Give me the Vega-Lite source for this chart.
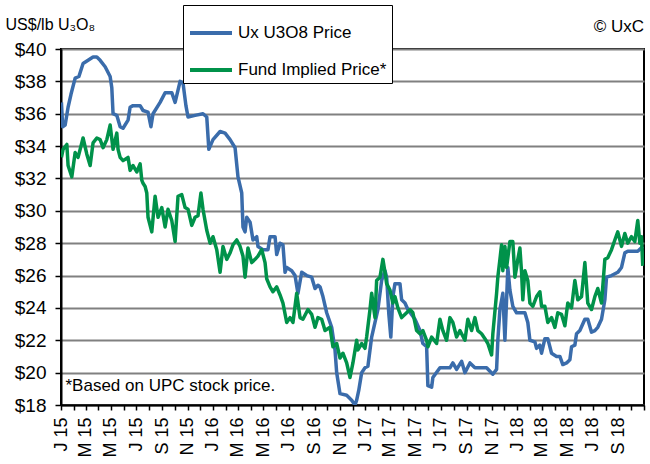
{
  "$schema": "https://vega.github.io/schema/vega-lite/v6.json",
  "width": 583,
  "height": 356,
  "autosize": "none",
  "padding": {"left": 61, "top": 49, "right": 6, "bottom": 59},
  "background": "white",
  "config": {
    "font": "Liberation Sans",
    "view": {"stroke": "black", "strokeWidth": 2},
    "axis": {"labelColor": "black", "titleColor": "black", "tickColor": "black", "domainColor": "black", "domainWidth": 2}
  },
  "title": {"text": "© UxC", "anchor": "end", "frame": "group", "fontSize": 17, "fontWeight": "normal", "offset": 16, "dy": 47, "color": "black", "font": "Liberation Sans"},
  "data": {
    "values": [
      {"date": "2015-01-02", "series": "Ux U3O8 Price", "price": 36.7},
      {"date": "2015-01-05", "series": "Ux U3O8 Price", "price": 35.2},
      {"date": "2015-01-11", "series": "Ux U3O8 Price", "price": 35.3},
      {"date": "2015-01-18", "series": "Ux U3O8 Price", "price": 36.4},
      {"date": "2015-01-25", "series": "Ux U3O8 Price", "price": 37.2},
      {"date": "2015-02-04", "series": "Ux U3O8 Price", "price": 38.2},
      {"date": "2015-02-13", "series": "Ux U3O8 Price", "price": 38.3},
      {"date": "2015-02-23", "series": "Ux U3O8 Price", "price": 39.1},
      {"date": "2015-03-07", "series": "Ux U3O8 Price", "price": 39.3},
      {"date": "2015-03-19", "series": "Ux U3O8 Price", "price": 39.5},
      {"date": "2015-03-28", "series": "Ux U3O8 Price", "price": 39.5},
      {"date": "2015-04-05", "series": "Ux U3O8 Price", "price": 39.3},
      {"date": "2015-04-17", "series": "Ux U3O8 Price", "price": 38.9},
      {"date": "2015-04-29", "series": "Ux U3O8 Price", "price": 38.3},
      {"date": "2015-05-03", "series": "Ux U3O8 Price", "price": 37.6},
      {"date": "2015-05-06", "series": "Ux U3O8 Price", "price": 36.0},
      {"date": "2015-05-15", "series": "Ux U3O8 Price", "price": 35.9},
      {"date": "2015-05-23", "series": "Ux U3O8 Price", "price": 35.2},
      {"date": "2015-05-30", "series": "Ux U3O8 Price", "price": 35.1},
      {"date": "2015-06-11", "series": "Ux U3O8 Price", "price": 35.6},
      {"date": "2015-06-16", "series": "Ux U3O8 Price", "price": 36.4},
      {"date": "2015-06-23", "series": "Ux U3O8 Price", "price": 36.5},
      {"date": "2015-07-10", "series": "Ux U3O8 Price", "price": 36.5},
      {"date": "2015-07-17", "series": "Ux U3O8 Price", "price": 36.2},
      {"date": "2015-07-29", "series": "Ux U3O8 Price", "price": 36.1},
      {"date": "2015-08-05", "series": "Ux U3O8 Price", "price": 35.2},
      {"date": "2015-08-10", "series": "Ux U3O8 Price", "price": 36.0},
      {"date": "2015-08-27", "series": "Ux U3O8 Price", "price": 36.7},
      {"date": "2015-09-08", "series": "Ux U3O8 Price", "price": 37.3},
      {"date": "2015-09-24", "series": "Ux U3O8 Price", "price": 37.3},
      {"date": "2015-10-02", "series": "Ux U3O8 Price", "price": 36.7},
      {"date": "2015-10-14", "series": "Ux U3O8 Price", "price": 38.0},
      {"date": "2015-10-21", "series": "Ux U3O8 Price", "price": 37.9},
      {"date": "2015-10-28", "series": "Ux U3O8 Price", "price": 36.5},
      {"date": "2015-11-02", "series": "Ux U3O8 Price", "price": 35.8},
      {"date": "2015-11-19", "series": "Ux U3O8 Price", "price": 35.9},
      {"date": "2015-12-08", "series": "Ux U3O8 Price", "price": 36.0},
      {"date": "2015-12-17", "series": "Ux U3O8 Price", "price": 35.8},
      {"date": "2015-12-22", "series": "Ux U3O8 Price", "price": 33.8},
      {"date": "2016-01-01", "series": "Ux U3O8 Price", "price": 34.4},
      {"date": "2016-01-18", "series": "Ux U3O8 Price", "price": 34.9},
      {"date": "2016-01-30", "series": "Ux U3O8 Price", "price": 34.8},
      {"date": "2016-02-11", "series": "Ux U3O8 Price", "price": 34.4},
      {"date": "2016-02-23", "series": "Ux U3O8 Price", "price": 33.9},
      {"date": "2016-03-01", "series": "Ux U3O8 Price", "price": 32.1},
      {"date": "2016-03-10", "series": "Ux U3O8 Price", "price": 31.1},
      {"date": "2016-03-13", "series": "Ux U3O8 Price", "price": 29.0},
      {"date": "2016-03-18", "series": "Ux U3O8 Price", "price": 28.7},
      {"date": "2016-03-22", "series": "Ux U3O8 Price", "price": 29.6},
      {"date": "2016-03-30", "series": "Ux U3O8 Price", "price": 29.3},
      {"date": "2016-04-06", "series": "Ux U3O8 Price", "price": 28.2},
      {"date": "2016-04-15", "series": "Ux U3O8 Price", "price": 28.4},
      {"date": "2016-04-18", "series": "Ux U3O8 Price", "price": 27.8},
      {"date": "2016-04-30", "series": "Ux U3O8 Price", "price": 27.6},
      {"date": "2016-05-12", "series": "Ux U3O8 Price", "price": 27.6},
      {"date": "2016-05-17", "series": "Ux U3O8 Price", "price": 28.4},
      {"date": "2016-05-29", "series": "Ux U3O8 Price", "price": 28.4},
      {"date": "2016-06-02", "series": "Ux U3O8 Price", "price": 27.3},
      {"date": "2016-06-10", "series": "Ux U3O8 Price", "price": 28.0},
      {"date": "2016-06-17", "series": "Ux U3O8 Price", "price": 27.9},
      {"date": "2016-06-22", "series": "Ux U3O8 Price", "price": 26.2},
      {"date": "2016-06-26", "series": "Ux U3O8 Price", "price": 26.5},
      {"date": "2016-07-08", "series": "Ux U3O8 Price", "price": 26.3},
      {"date": "2016-07-16", "series": "Ux U3O8 Price", "price": 26.0},
      {"date": "2016-07-23", "series": "Ux U3O8 Price", "price": 24.9},
      {"date": "2016-08-01", "series": "Ux U3O8 Price", "price": 26.2},
      {"date": "2016-08-13", "series": "Ux U3O8 Price", "price": 26.0},
      {"date": "2016-08-25", "series": "Ux U3O8 Price", "price": 25.9},
      {"date": "2016-09-02", "series": "Ux U3O8 Price", "price": 25.2},
      {"date": "2016-09-09", "series": "Ux U3O8 Price", "price": 25.4},
      {"date": "2016-09-14", "series": "Ux U3O8 Price", "price": 25.3},
      {"date": "2016-09-21", "series": "Ux U3O8 Price", "price": 24.7},
      {"date": "2016-09-30", "series": "Ux U3O8 Price", "price": 23.7},
      {"date": "2016-10-12", "series": "Ux U3O8 Price", "price": 22.8},
      {"date": "2016-10-20", "series": "Ux U3O8 Price", "price": 21.4},
      {"date": "2016-10-24", "series": "Ux U3O8 Price", "price": 20.0},
      {"date": "2016-11-01", "series": "Ux U3O8 Price", "price": 18.7},
      {"date": "2016-11-17", "series": "Ux U3O8 Price", "price": 18.6},
      {"date": "2016-11-29", "series": "Ux U3O8 Price", "price": 18.3},
      {"date": "2016-12-07", "series": "Ux U3O8 Price", "price": 18.0},
      {"date": "2016-12-11", "series": "Ux U3O8 Price", "price": 18.3},
      {"date": "2016-12-16", "series": "Ux U3O8 Price", "price": 18.9},
      {"date": "2016-12-23", "series": "Ux U3O8 Price", "price": 20.0},
      {"date": "2016-12-31", "series": "Ux U3O8 Price", "price": 20.3},
      {"date": "2017-01-07", "series": "Ux U3O8 Price", "price": 20.4},
      {"date": "2017-01-16", "series": "Ux U3O8 Price", "price": 22.2},
      {"date": "2017-01-24", "series": "Ux U3O8 Price", "price": 23.1},
      {"date": "2017-01-31", "series": "Ux U3O8 Price", "price": 23.9},
      {"date": "2017-02-09", "series": "Ux U3O8 Price", "price": 25.7},
      {"date": "2017-02-17", "series": "Ux U3O8 Price", "price": 26.3},
      {"date": "2017-02-21", "series": "Ux U3O8 Price", "price": 25.9},
      {"date": "2017-02-26", "series": "Ux U3O8 Price", "price": 23.7},
      {"date": "2017-03-03", "series": "Ux U3O8 Price", "price": 22.2},
      {"date": "2017-03-08", "series": "Ux U3O8 Price", "price": 24.7},
      {"date": "2017-03-13", "series": "Ux U3O8 Price", "price": 25.5},
      {"date": "2017-03-25", "series": "Ux U3O8 Price", "price": 25.5},
      {"date": "2017-03-29", "series": "Ux U3O8 Price", "price": 24.5},
      {"date": "2017-04-06", "series": "Ux U3O8 Price", "price": 24.3},
      {"date": "2017-04-13", "series": "Ux U3O8 Price", "price": 23.9},
      {"date": "2017-04-30", "series": "Ux U3O8 Price", "price": 23.3},
      {"date": "2017-05-12", "series": "Ux U3O8 Price", "price": 22.6},
      {"date": "2017-05-19", "series": "Ux U3O8 Price", "price": 21.8},
      {"date": "2017-05-28", "series": "Ux U3O8 Price", "price": 21.6},
      {"date": "2017-05-31", "series": "Ux U3O8 Price", "price": 19.2},
      {"date": "2017-06-09", "series": "Ux U3O8 Price", "price": 19.1},
      {"date": "2017-06-12", "series": "Ux U3O8 Price", "price": 19.7},
      {"date": "2017-06-29", "series": "Ux U3O8 Price", "price": 20.3},
      {"date": "2017-07-23", "series": "Ux U3O8 Price", "price": 20.3},
      {"date": "2017-07-30", "series": "Ux U3O8 Price", "price": 20.6},
      {"date": "2017-08-08", "series": "Ux U3O8 Price", "price": 20.2},
      {"date": "2017-08-20", "series": "Ux U3O8 Price", "price": 20.7},
      {"date": "2017-08-28", "series": "Ux U3O8 Price", "price": 20.0},
      {"date": "2017-09-09", "series": "Ux U3O8 Price", "price": 20.6},
      {"date": "2017-09-21", "series": "Ux U3O8 Price", "price": 20.3},
      {"date": "2017-10-03", "series": "Ux U3O8 Price", "price": 20.3},
      {"date": "2017-10-19", "series": "Ux U3O8 Price", "price": 20.3},
      {"date": "2017-11-03", "series": "Ux U3O8 Price", "price": 19.9},
      {"date": "2017-11-12", "series": "Ux U3O8 Price", "price": 20.2},
      {"date": "2017-11-15", "series": "Ux U3O8 Price", "price": 22.0},
      {"date": "2017-11-20", "series": "Ux U3O8 Price", "price": 23.9},
      {"date": "2017-11-27", "series": "Ux U3O8 Price", "price": 24.9},
      {"date": "2017-12-02", "series": "Ux U3O8 Price", "price": 22.0},
      {"date": "2017-12-06", "series": "Ux U3O8 Price", "price": 24.5},
      {"date": "2017-12-09", "series": "Ux U3O8 Price", "price": 26.5},
      {"date": "2017-12-14", "series": "Ux U3O8 Price", "price": 25.1},
      {"date": "2017-12-21", "series": "Ux U3O8 Price", "price": 24.1},
      {"date": "2017-12-30", "series": "Ux U3O8 Price", "price": 23.7},
      {"date": "2018-01-19", "series": "Ux U3O8 Price", "price": 23.7},
      {"date": "2018-01-26", "series": "Ux U3O8 Price", "price": 23.1},
      {"date": "2018-01-31", "series": "Ux U3O8 Price", "price": 22.0},
      {"date": "2018-02-12", "series": "Ux U3O8 Price", "price": 21.9},
      {"date": "2018-02-16", "series": "Ux U3O8 Price", "price": 21.5},
      {"date": "2018-02-24", "series": "Ux U3O8 Price", "price": 21.7},
      {"date": "2018-02-28", "series": "Ux U3O8 Price", "price": 21.2},
      {"date": "2018-03-08", "series": "Ux U3O8 Price", "price": 22.1},
      {"date": "2018-03-15", "series": "Ux U3O8 Price", "price": 22.1},
      {"date": "2018-03-24", "series": "Ux U3O8 Price", "price": 21.2},
      {"date": "2018-04-05", "series": "Ux U3O8 Price", "price": 21.0},
      {"date": "2018-04-13", "series": "Ux U3O8 Price", "price": 21.0},
      {"date": "2018-04-20", "series": "Ux U3O8 Price", "price": 20.5},
      {"date": "2018-04-29", "series": "Ux U3O8 Price", "price": 20.6},
      {"date": "2018-05-07", "series": "Ux U3O8 Price", "price": 20.8},
      {"date": "2018-05-11", "series": "Ux U3O8 Price", "price": 21.6},
      {"date": "2018-05-19", "series": "Ux U3O8 Price", "price": 21.7},
      {"date": "2018-05-23", "series": "Ux U3O8 Price", "price": 22.4},
      {"date": "2018-05-31", "series": "Ux U3O8 Price", "price": 22.6},
      {"date": "2018-06-12", "series": "Ux U3O8 Price", "price": 23.3},
      {"date": "2018-06-19", "series": "Ux U3O8 Price", "price": 23.3},
      {"date": "2018-06-28", "series": "Ux U3O8 Price", "price": 22.5},
      {"date": "2018-07-06", "series": "Ux U3O8 Price", "price": 22.6},
      {"date": "2018-07-13", "series": "Ux U3O8 Price", "price": 22.8},
      {"date": "2018-07-22", "series": "Ux U3O8 Price", "price": 23.3},
      {"date": "2018-07-30", "series": "Ux U3O8 Price", "price": 24.5},
      {"date": "2018-08-03", "series": "Ux U3O8 Price", "price": 25.9},
      {"date": "2018-08-15", "series": "Ux U3O8 Price", "price": 26.0},
      {"date": "2018-08-30", "series": "Ux U3O8 Price", "price": 26.2},
      {"date": "2018-09-08", "series": "Ux U3O8 Price", "price": 26.5},
      {"date": "2018-09-16", "series": "Ux U3O8 Price", "price": 27.4},
      {"date": "2018-09-23", "series": "Ux U3O8 Price", "price": 27.5},
      {"date": "2018-10-17", "series": "Ux U3O8 Price", "price": 27.5},
      {"date": "2018-10-29", "series": "Ux U3O8 Price", "price": 27.8},
      {"date": "2015-01-02", "series": "Fund Implied Price*", "price": 33.3},
      {"date": "2015-01-06", "series": "Fund Implied Price*", "price": 33.8},
      {"date": "2015-01-15", "series": "Fund Implied Price*", "price": 34.1},
      {"date": "2015-01-18", "series": "Fund Implied Price*", "price": 32.8},
      {"date": "2015-01-27", "series": "Fund Implied Price*", "price": 32.1},
      {"date": "2015-02-04", "series": "Fund Implied Price*", "price": 33.6},
      {"date": "2015-02-11", "series": "Fund Implied Price*", "price": 33.3},
      {"date": "2015-02-23", "series": "Fund Implied Price*", "price": 34.5},
      {"date": "2015-03-04", "series": "Fund Implied Price*", "price": 33.5},
      {"date": "2015-03-12", "series": "Fund Implied Price*", "price": 32.8},
      {"date": "2015-03-19", "series": "Fund Implied Price*", "price": 34.2},
      {"date": "2015-03-28", "series": "Fund Implied Price*", "price": 34.5},
      {"date": "2015-04-05", "series": "Fund Implied Price*", "price": 34.4},
      {"date": "2015-04-12", "series": "Fund Implied Price*", "price": 33.9},
      {"date": "2015-04-21", "series": "Fund Implied Price*", "price": 34.4},
      {"date": "2015-04-29", "series": "Fund Implied Price*", "price": 35.3},
      {"date": "2015-05-06", "series": "Fund Implied Price*", "price": 33.8},
      {"date": "2015-05-15", "series": "Fund Implied Price*", "price": 34.8},
      {"date": "2015-05-18", "series": "Fund Implied Price*", "price": 33.8},
      {"date": "2015-05-23", "series": "Fund Implied Price*", "price": 33.3},
      {"date": "2015-05-30", "series": "Fund Implied Price*", "price": 33.1},
      {"date": "2015-06-11", "series": "Fund Implied Price*", "price": 33.3},
      {"date": "2015-06-16", "series": "Fund Implied Price*", "price": 32.5},
      {"date": "2015-06-23", "series": "Fund Implied Price*", "price": 32.8},
      {"date": "2015-07-02", "series": "Fund Implied Price*", "price": 32.4},
      {"date": "2015-07-10", "series": "Fund Implied Price*", "price": 32.9},
      {"date": "2015-07-14", "series": "Fund Implied Price*", "price": 31.9},
      {"date": "2015-07-17", "series": "Fund Implied Price*", "price": 31.7},
      {"date": "2015-07-22", "series": "Fund Implied Price*", "price": 31.5},
      {"date": "2015-07-26", "series": "Fund Implied Price*", "price": 31.1},
      {"date": "2015-07-29", "series": "Fund Implied Price*", "price": 29.6},
      {"date": "2015-08-07", "series": "Fund Implied Price*", "price": 28.7},
      {"date": "2015-08-15", "series": "Fund Implied Price*", "price": 30.9},
      {"date": "2015-08-22", "series": "Fund Implied Price*", "price": 29.6},
      {"date": "2015-08-31", "series": "Fund Implied Price*", "price": 30.2},
      {"date": "2015-09-08", "series": "Fund Implied Price*", "price": 29.0},
      {"date": "2015-09-15", "series": "Fund Implied Price*", "price": 30.1},
      {"date": "2015-09-24", "series": "Fund Implied Price*", "price": 29.4},
      {"date": "2015-10-02", "series": "Fund Implied Price*", "price": 28.1},
      {"date": "2015-10-09", "series": "Fund Implied Price*", "price": 30.9},
      {"date": "2015-10-18", "series": "Fund Implied Price*", "price": 31.0},
      {"date": "2015-10-26", "series": "Fund Implied Price*", "price": 30.2},
      {"date": "2015-11-02", "series": "Fund Implied Price*", "price": 30.1},
      {"date": "2015-11-11", "series": "Fund Implied Price*", "price": 29.1},
      {"date": "2015-11-19", "series": "Fund Implied Price*", "price": 29.6},
      {"date": "2015-11-26", "series": "Fund Implied Price*", "price": 29.7},
      {"date": "2015-12-03", "series": "Fund Implied Price*", "price": 31.1},
      {"date": "2015-12-08", "series": "Fund Implied Price*", "price": 30.1},
      {"date": "2015-12-17", "series": "Fund Implied Price*", "price": 28.8},
      {"date": "2015-12-25", "series": "Fund Implied Price*", "price": 28.0},
      {"date": "2016-01-01", "series": "Fund Implied Price*", "price": 28.4},
      {"date": "2016-01-10", "series": "Fund Implied Price*", "price": 27.6},
      {"date": "2016-01-18", "series": "Fund Implied Price*", "price": 26.2},
      {"date": "2016-01-25", "series": "Fund Implied Price*", "price": 27.8},
      {"date": "2016-02-03", "series": "Fund Implied Price*", "price": 27.0},
      {"date": "2016-02-11", "series": "Fund Implied Price*", "price": 27.4},
      {"date": "2016-02-18", "series": "Fund Implied Price*", "price": 27.9},
      {"date": "2016-02-27", "series": "Fund Implied Price*", "price": 28.2},
      {"date": "2016-03-06", "series": "Fund Implied Price*", "price": 27.8},
      {"date": "2016-03-13", "series": "Fund Implied Price*", "price": 27.2},
      {"date": "2016-03-18", "series": "Fund Implied Price*", "price": 25.9},
      {"date": "2016-03-25", "series": "Fund Implied Price*", "price": 27.7},
      {"date": "2016-04-03", "series": "Fund Implied Price*", "price": 26.8},
      {"date": "2016-04-11", "series": "Fund Implied Price*", "price": 27.0},
      {"date": "2016-04-18", "series": "Fund Implied Price*", "price": 27.2},
      {"date": "2016-04-27", "series": "Fund Implied Price*", "price": 27.6},
      {"date": "2016-05-05", "series": "Fund Implied Price*", "price": 26.8},
      {"date": "2016-05-09", "series": "Fund Implied Price*", "price": 25.8},
      {"date": "2016-05-17", "series": "Fund Implied Price*", "price": 25.3},
      {"date": "2016-05-24", "series": "Fund Implied Price*", "price": 25.0},
      {"date": "2016-06-02", "series": "Fund Implied Price*", "price": 25.3},
      {"date": "2016-06-10", "series": "Fund Implied Price*", "price": 24.8},
      {"date": "2016-06-17", "series": "Fund Implied Price*", "price": 24.3},
      {"date": "2016-06-26", "series": "Fund Implied Price*", "price": 23.1},
      {"date": "2016-07-04", "series": "Fund Implied Price*", "price": 23.4},
      {"date": "2016-07-11", "series": "Fund Implied Price*", "price": 23.1},
      {"date": "2016-07-20", "series": "Fund Implied Price*", "price": 24.9},
      {"date": "2016-07-28", "series": "Fund Implied Price*", "price": 23.4},
      {"date": "2016-08-04", "series": "Fund Implied Price*", "price": 23.3},
      {"date": "2016-08-16", "series": "Fund Implied Price*", "price": 23.9},
      {"date": "2016-08-25", "series": "Fund Implied Price*", "price": 23.6},
      {"date": "2016-09-02", "series": "Fund Implied Price*", "price": 22.8},
      {"date": "2016-09-09", "series": "Fund Implied Price*", "price": 23.4},
      {"date": "2016-09-18", "series": "Fund Implied Price*", "price": 23.3},
      {"date": "2016-09-26", "series": "Fund Implied Price*", "price": 22.6},
      {"date": "2016-10-08", "series": "Fund Implied Price*", "price": 22.8},
      {"date": "2016-10-15", "series": "Fund Implied Price*", "price": 21.6},
      {"date": "2016-10-24", "series": "Fund Implied Price*", "price": 21.8},
      {"date": "2016-11-01", "series": "Fund Implied Price*", "price": 20.9},
      {"date": "2016-11-08", "series": "Fund Implied Price*", "price": 21.2},
      {"date": "2016-11-17", "series": "Fund Implied Price*", "price": 20.6},
      {"date": "2016-11-25", "series": "Fund Implied Price*", "price": 19.7},
      {"date": "2016-12-02", "series": "Fund Implied Price*", "price": 20.6},
      {"date": "2016-12-11", "series": "Fund Implied Price*", "price": 22.0},
      {"date": "2016-12-14", "series": "Fund Implied Price*", "price": 21.4},
      {"date": "2016-12-23", "series": "Fund Implied Price*", "price": 21.8},
      {"date": "2016-12-31", "series": "Fund Implied Price*", "price": 21.5},
      {"date": "2017-01-04", "series": "Fund Implied Price*", "price": 22.2},
      {"date": "2017-01-12", "series": "Fund Implied Price*", "price": 23.9},
      {"date": "2017-01-16", "series": "Fund Implied Price*", "price": 24.9},
      {"date": "2017-01-24", "series": "Fund Implied Price*", "price": 23.4},
      {"date": "2017-01-28", "series": "Fund Implied Price*", "price": 25.7},
      {"date": "2017-02-05", "series": "Fund Implied Price*", "price": 25.9},
      {"date": "2017-02-12", "series": "Fund Implied Price*", "price": 27.0},
      {"date": "2017-02-17", "series": "Fund Implied Price*", "price": 26.2},
      {"date": "2017-02-21", "series": "Fund Implied Price*", "price": 25.5},
      {"date": "2017-03-01", "series": "Fund Implied Price*", "price": 25.1},
      {"date": "2017-03-08", "series": "Fund Implied Price*", "price": 24.3},
      {"date": "2017-03-13", "series": "Fund Implied Price*", "price": 24.7},
      {"date": "2017-03-20", "series": "Fund Implied Price*", "price": 24.0},
      {"date": "2017-03-29", "series": "Fund Implied Price*", "price": 23.4},
      {"date": "2017-04-10", "series": "Fund Implied Price*", "price": 23.7},
      {"date": "2017-04-18", "series": "Fund Implied Price*", "price": 23.9},
      {"date": "2017-04-25", "series": "Fund Implied Price*", "price": 23.7},
      {"date": "2017-05-04", "series": "Fund Implied Price*", "price": 22.6},
      {"date": "2017-05-12", "series": "Fund Implied Price*", "price": 22.4},
      {"date": "2017-05-19", "series": "Fund Implied Price*", "price": 22.6},
      {"date": "2017-05-28", "series": "Fund Implied Price*", "price": 22.0},
      {"date": "2017-05-31", "series": "Fund Implied Price*", "price": 21.6},
      {"date": "2017-06-09", "series": "Fund Implied Price*", "price": 22.2},
      {"date": "2017-06-21", "series": "Fund Implied Price*", "price": 21.8},
      {"date": "2017-06-29", "series": "Fund Implied Price*", "price": 23.3},
      {"date": "2017-07-06", "series": "Fund Implied Price*", "price": 22.6},
      {"date": "2017-07-15", "series": "Fund Implied Price*", "price": 22.0},
      {"date": "2017-07-23", "series": "Fund Implied Price*", "price": 23.4},
      {"date": "2017-07-30", "series": "Fund Implied Price*", "price": 23.1},
      {"date": "2017-08-08", "series": "Fund Implied Price*", "price": 22.2},
      {"date": "2017-08-16", "series": "Fund Implied Price*", "price": 22.6},
      {"date": "2017-08-28", "series": "Fund Implied Price*", "price": 22.0},
      {"date": "2017-09-04", "series": "Fund Implied Price*", "price": 23.3},
      {"date": "2017-09-13", "series": "Fund Implied Price*", "price": 22.6},
      {"date": "2017-09-21", "series": "Fund Implied Price*", "price": 23.4},
      {"date": "2017-09-28", "series": "Fund Implied Price*", "price": 22.6},
      {"date": "2017-10-07", "series": "Fund Implied Price*", "price": 22.4},
      {"date": "2017-10-15", "series": "Fund Implied Price*", "price": 22.1},
      {"date": "2017-10-22", "series": "Fund Implied Price*", "price": 21.8},
      {"date": "2017-10-31", "series": "Fund Implied Price*", "price": 21.1},
      {"date": "2017-11-03", "series": "Fund Implied Price*", "price": 22.4},
      {"date": "2017-11-12", "series": "Fund Implied Price*", "price": 24.9},
      {"date": "2017-11-15", "series": "Fund Implied Price*", "price": 25.9},
      {"date": "2017-11-20", "series": "Fund Implied Price*", "price": 27.0},
      {"date": "2017-11-24", "series": "Fund Implied Price*", "price": 27.9},
      {"date": "2017-11-27", "series": "Fund Implied Price*", "price": 26.3},
      {"date": "2017-12-02", "series": "Fund Implied Price*", "price": 27.8},
      {"date": "2017-12-06", "series": "Fund Implied Price*", "price": 26.5},
      {"date": "2017-12-14", "series": "Fund Implied Price*", "price": 28.1},
      {"date": "2017-12-21", "series": "Fund Implied Price*", "price": 28.1},
      {"date": "2017-12-26", "series": "Fund Implied Price*", "price": 25.9},
      {"date": "2017-12-30", "series": "Fund Implied Price*", "price": 26.5},
      {"date": "2018-01-02", "series": "Fund Implied Price*", "price": 27.0},
      {"date": "2018-01-07", "series": "Fund Implied Price*", "price": 27.7},
      {"date": "2018-01-11", "series": "Fund Implied Price*", "price": 26.2},
      {"date": "2018-01-14", "series": "Fund Implied Price*", "price": 24.5},
      {"date": "2018-01-19", "series": "Fund Implied Price*", "price": 26.3},
      {"date": "2018-01-26", "series": "Fund Implied Price*", "price": 25.7},
      {"date": "2018-01-31", "series": "Fund Implied Price*", "price": 24.3},
      {"date": "2018-02-07", "series": "Fund Implied Price*", "price": 24.1},
      {"date": "2018-02-16", "series": "Fund Implied Price*", "price": 24.7},
      {"date": "2018-02-24", "series": "Fund Implied Price*", "price": 25.0},
      {"date": "2018-02-28", "series": "Fund Implied Price*", "price": 24.1},
      {"date": "2018-03-08", "series": "Fund Implied Price*", "price": 24.1},
      {"date": "2018-03-15", "series": "Fund Implied Price*", "price": 23.1},
      {"date": "2018-03-24", "series": "Fund Implied Price*", "price": 23.4},
      {"date": "2018-04-01", "series": "Fund Implied Price*", "price": 22.8},
      {"date": "2018-04-08", "series": "Fund Implied Price*", "price": 23.7},
      {"date": "2018-04-17", "series": "Fund Implied Price*", "price": 23.6},
      {"date": "2018-04-25", "series": "Fund Implied Price*", "price": 22.9},
      {"date": "2018-05-02", "series": "Fund Implied Price*", "price": 24.3},
      {"date": "2018-05-11", "series": "Fund Implied Price*", "price": 24.0},
      {"date": "2018-05-19", "series": "Fund Implied Price*", "price": 25.7},
      {"date": "2018-05-26", "series": "Fund Implied Price*", "price": 24.5},
      {"date": "2018-06-04", "series": "Fund Implied Price*", "price": 24.7},
      {"date": "2018-06-12", "series": "Fund Implied Price*", "price": 26.8},
      {"date": "2018-06-19", "series": "Fund Implied Price*", "price": 24.3},
      {"date": "2018-06-28", "series": "Fund Implied Price*", "price": 23.9},
      {"date": "2018-07-06", "series": "Fund Implied Price*", "price": 24.7},
      {"date": "2018-07-13", "series": "Fund Implied Price*", "price": 25.2},
      {"date": "2018-07-22", "series": "Fund Implied Price*", "price": 24.3},
      {"date": "2018-07-30", "series": "Fund Implied Price*", "price": 27.0},
      {"date": "2018-08-06", "series": "Fund Implied Price*", "price": 27.1},
      {"date": "2018-08-15", "series": "Fund Implied Price*", "price": 27.6},
      {"date": "2018-08-23", "series": "Fund Implied Price*", "price": 28.2},
      {"date": "2018-08-30", "series": "Fund Implied Price*", "price": 28.7},
      {"date": "2018-09-08", "series": "Fund Implied Price*", "price": 27.8},
      {"date": "2018-09-16", "series": "Fund Implied Price*", "price": 28.6},
      {"date": "2018-09-23", "series": "Fund Implied Price*", "price": 28.0},
      {"date": "2018-10-02", "series": "Fund Implied Price*", "price": 28.4},
      {"date": "2018-10-10", "series": "Fund Implied Price*", "price": 28.1},
      {"date": "2018-10-17", "series": "Fund Implied Price*", "price": 29.4},
      {"date": "2018-10-22", "series": "Fund Implied Price*", "price": 28.0},
      {"date": "2018-10-26", "series": "Fund Implied Price*", "price": 28.4},
      {"date": "2018-10-29", "series": "Fund Implied Price*", "price": 26.6}
    ]
  },
  "mark": {"type": "line", "strokeWidth": 3.5, "strokeJoin": "round", "clip": true},
  "encoding": {
    "x": {
      "field": "date",
      "type": "temporal",
      "scale": {"type": "utc", "domain": [{"year": 2015, "month": 1, "date": 1, "utc": true}, {"year": 2018, "month": 11, "date": 1, "utc": true}], "nice": false},
      "axis": {
        "title": "*Based on UPC stock price.",
        "titleX": 4,
        "titleY": -20,
        "titleAlign": "left",
        "titleBaseline": "middle",
        "titleFontSize": 17,
        "titleFontWeight": "normal",
        "titleFont": "Liberation Sans",
        "grid": false,
        "tickCount": {"interval": "month", "step": 1},
        "labelAngle": 270,
        "labelAlign": "right",
        "labelBaseline": "middle",
        "labelFontSize": 18,
        "labelPadding": 7,
        "labelOverlap": false,
        "labelFlush": false,
        "labelBound": false,
        "labelExpr": "(utcmonth(datum.value) % 2 == 0 && datum.value < 1540000000000) ? slice(utcFormat(datum.value, '%b'), 0, 1) + ' ' + utcFormat(datum.value, '%y') : ''",
        "tickSize": 5,
        "tickWidth": 1.5
      }
    },
    "y": {
      "field": "price",
      "type": "quantitative",
      "scale": {"domain": [18, 40], "nice": false, "zero": false},
      "axis": {
        "title": "US$/lb U₃O₈",
        "titleAngle": 0,
        "titleX": -56,
        "titleY": -25,
        "titleAlign": "left",
        "titleBaseline": "middle",
        "titleFontSize": 16,
        "titleFontWeight": "normal",
        "titleFont": "Liberation Sans",
        "values": [18, 20, 22, 24, 26, 28, 30, 32, 34, 36, 38, 40],
        "labelExpr": "'$' + datum.value",
        "labelFontSize": 19,
        "labelPadding": 9,
        "tickSize": 6,
        "tickWidth": 1.5,
        "grid": true,
        "gridColor": "#808080",
        "gridWidth": 2
      }
    },
    "color": {
      "field": "series",
      "type": "nominal",
      "scale": {"domain": ["Ux U3O8 Price", "Fund Implied Price*"], "range": ["#3A6CAB", "#00924A"]},
      "legend": {
        "orient": "none",
        "legendX": 122,
        "legendY": -44,
        "title": null,
        "direction": "vertical",
        "symbolType": "stroke",
        "symbolStrokeWidth": 4,
        "symbolSize": 1764,
        "labelFontSize": 17,
        "labelFont": "Liberation Sans",
        "labelColor": "black",
        "labelOffset": 4,
        "strokeColor": "black",
        "fillColor": "white",
        "padding": 5,
        "rowPadding": 6
      }
    }
  }
}
